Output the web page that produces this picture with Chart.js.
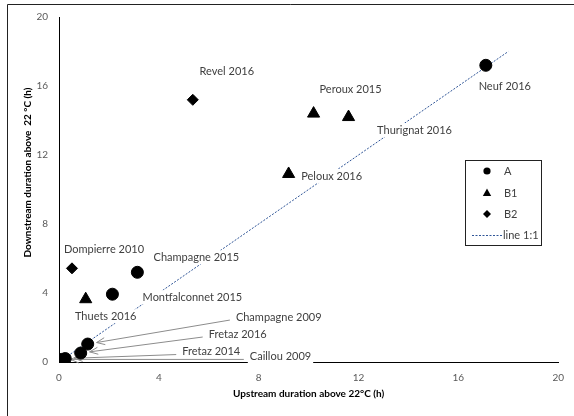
<!DOCTYPE html>
<html>
<head>
<meta charset="utf-8">
<script src="https://cdn.jsdelivr.net/npm/chart.js@4.4.0/dist/chart.umd.min.js"></script>
<style>
  html, body { margin: 0; padding: 0; background: #fff; }
  #wrap { width: 574px; height: 416px; }
</style>
</head>
<body>
<div id="wrap"><canvas id="chart" width="574" height="416"></canvas></div>
<script>
// group A (circles)
const aX = [17.1, 3.14, 2.14, 1.15, 0.87, 0.25, 0.1];
const aY = [17.2, 5.2, 3.93, 1.04, 0.52, 0.2, 0.15];
const aNames = ['Neuf 2016', 'Champagne 2015', 'Montfalconnet 2015', 'Champagne 2009', 'Fretaz 2016', 'Fretaz 2014', 'Caillou 2009'];

// group B1 (triangles)
const b1X = [10.2, 11.6, 9.2, 1.07];
const b1Y = [14.4, 14.2, 10.9, 3.64];
const b1Names = ['Peroux 2015', 'Thurignat 2016', 'Peloux 2016', 'Thuets 2016'];

// group B2 (diamonds)
const b2X = [5.36, 0.52];
const b2Y = [15.2, 5.43];
const b2Names = ['Revel 2016', 'Dompierre 2010'];

// 1:1 reference line
const lineX = [0, 18];
const lineY = [0, 18];

const axisTicks = [0, 4, 8, 12, 16, 20];
const seriesNames = ['A', 'B1', 'B2', 'line 1:1'];

const toPts = (xs, ys) => xs.map((x, i) => ({ x, y: ys[i] }));

// where each site label sits, in px relative to its point (text centre); arrow = leader line
const labelPlace = {
  'Neuf 2016': [19, 21],
  'Champagne 2015': [59, -15],
  'Montfalconnet 2015': [80, 3],
  'Champagne 2009': [191, -27, 'arrow'],
  'Fretaz 2016': [157, -19, 'arrow'],
  'Fretaz 2014': [146, -7, 'arrow'],
  'Caillou 2009': [219, -3, 'arrow'],
  'Peroux 2015': [37, -24],
  'Thurignat 2016': [66, 13],
  'Peloux 2016': [43, 2],
  'Thuets 2016': [20, 17],
  'Revel 2016': [34, -28],
  'Dompierre 2010': [32, -19]
};

function drawArrow(ctx, x1, y1, x2, y2) {
  const ang = Math.atan2(y2 - y1, x2 - x1);
  ctx.beginPath();
  ctx.moveTo(x1, y1);
  ctx.lineTo(x2, y2);
  ctx.moveTo(x2 - 9 * Math.cos(ang - 0.4), y2 - 9 * Math.sin(ang - 0.4));
  ctx.lineTo(x2, y2);
  ctx.lineTo(x2 - 9 * Math.cos(ang + 0.4), y2 - 9 * Math.sin(ang + 0.4));
  ctx.stroke();
}

// labels go on after the 1:1 line but before the markers
const siteLabels = {
  id: 'siteLabels',
  afterDatasetDraw(chart, args) {
    if (args.index !== 3) return;
    const ctx = chart.ctx;
    const xs = chart.scales.x, ys = chart.scales.y;
    const left = chart.chartArea.left;
    const groups = [[aX, aY, aNames], [b1X, b1Y, b1Names], [b2X, b2Y, b2Names]];
    ctx.save();
    ctx.font = '11px Lato';
    ctx.textBaseline = 'middle';
    ctx.textAlign = 'center';
    groups.forEach(([gx, gy, names]) => {
      names.forEach((name, i) => {
        const px = xs.getPixelForValue(gx[i]);
        const py = ys.getPixelForValue(gy[i]);
        const p = labelPlace[name];
        const cx = px + p[0], cy = py + p[1];
        const w = ctx.measureText(name).width;
        if (p[2] === 'arrow') {
          ctx.strokeStyle = '#8c8c8c';
          ctx.lineWidth = 1;
          const sx = cx - w / 2 - 6, sy = cy + 3;
          const ang = Math.atan2(py - sy, px - sx);
          drawArrow(ctx, sx, sy, px - 9 * Math.cos(ang), py - 9 * Math.sin(ang));
        }
        const bx = Math.max(cx - w / 2 - 2, left + 1);
        ctx.fillStyle = '#ffffff';
        ctx.fillRect(bx, cy - 7, cx + w / 2 + 2 - bx, 14);
        ctx.fillStyle = '#404040';
        ctx.fillText(name, cx, cy);
      });
    });
    ctx.restore();
  }
};

const boxLegend = {
  id: 'boxLegend',
  afterDraw(chart) {
    const ctx = chart.ctx;
    ctx.save();
    ctx.fillStyle = '#fff';
    ctx.fillRect(465, 160, 77, 85);
    ctx.strokeStyle = '#222';
    ctx.lineWidth = 1;
    ctx.strokeRect(465.5, 160.5, 76, 85);
    const mx = 487, tx = 504;
    const rows = [171, 193, 214, 235];
    ctx.fillStyle = '#000';
    ctx.beginPath();
    ctx.arc(mx, rows[0], 3.6, 0, Math.PI * 2);
    ctx.fill();
    ctx.beginPath();
    ctx.moveTo(mx, rows[1] - 4.5);
    ctx.lineTo(mx + 4.2, rows[1] + 3);
    ctx.lineTo(mx - 4.2, rows[1] + 3);
    ctx.closePath();
    ctx.fill();
    ctx.beginPath();
    ctx.moveTo(mx, rows[2] - 4);
    ctx.lineTo(mx + 4, rows[2]);
    ctx.lineTo(mx, rows[2] + 4);
    ctx.lineTo(mx - 4, rows[2]);
    ctx.closePath();
    ctx.fill();
    ctx.strokeStyle = '#2f5597';
    ctx.setLineDash([2, 1.5]);
    ctx.beginPath();
    ctx.moveTo(472, rows[3] + 0.5);
    ctx.lineTo(502, rows[3] + 0.5);
    ctx.stroke();
    ctx.setLineDash([]);
    ctx.font = '11px Lato';
    ctx.fillStyle = '#404040';
    ctx.textBaseline = 'middle';
    ctx.textAlign = 'left';
    seriesNames.forEach((s, i) => ctx.fillText(s, i === 3 ? 503 : tx, rows[i]));
    // outer frame (top and left edge only, as in the source)
    ctx.strokeStyle = '#222';
    ctx.beginPath();
    ctx.moveTo(574, 4.5);
    ctx.lineTo(7.5, 4.5);
    ctx.lineTo(7.5, 416);
    ctx.stroke();
    ctx.restore();
  }
};

const tickOpts = {
  color: '#595959',
  font: { family: 'Lato', size: 10 },
  stepSize: 4,
  autoSkip: false
};

new Chart(document.getElementById('chart'), {
  type: 'scatter',
  data: {
    datasets: [
      { label: 'A', data: toPts(aX, aY), pointStyle: 'circle', pointRadius: 6, backgroundColor: '#000', borderColor: '#000' },
      { label: 'B1', data: toPts(b1X, b1Y), pointStyle: 'triangle', pointRadius: 7, backgroundColor: '#000', borderColor: '#000' },
      { label: 'B2', data: toPts(b2X, b2Y), pointStyle: 'rectRot', pointRadius: 5.5, backgroundColor: '#000', borderColor: '#000' },
      { label: 'line 1:1', type: 'line', data: toPts(lineX, lineY), showLine: true, pointRadius: 0,
        borderColor: '#2f5597', borderWidth: 1, borderDash: [2, 1.5], fill: false }
    ]
  },
  options: {
    responsive: false,
    animation: false,
    layout: { padding: { top: 16, right: 12, left: 0, bottom: 0 } },
    plugins: {
      legend: { display: false },
      tooltip: { enabled: false }
    },
    scales: {
      x: {
        type: 'linear', min: 0, max: 20,
        afterBuildTicks: (s) => { s.ticks = axisTicks.map(v => ({ value: v })); },
        afterFit: (s) => { s.height = 54; },
        grid: { display: false, drawTicks: false },
        border: { display: true, color: '#000', width: 1 },
        ticks: Object.assign({ padding: 10 }, tickOpts),
        title: { display: true, text: 'Upstream duration above 22°C (h)', color: '#000',
          font: { family: 'Lato', size: 10, weight: 'bold' }, padding: { top: 0, bottom: 16 } }
      },
      y: {
        type: 'linear', min: 0, max: 20,
        afterBuildTicks: (s) => { s.ticks = axisTicks.map(v => ({ value: v })); },
        afterFit: (s) => { s.width = 59; },
        grid: { display: false, drawTicks: false },
        border: { display: true, color: '#000', width: 1 },
        ticks: Object.assign({ padding: 11 }, tickOpts),
        title: { display: true, text: '\u00A0\u00A0\u00A0\u00A0\u00A0\u00A0\u00A0\u00A0\u00A0\u00A0\u00A0\u00A0\u00A0\u00A0Downstream duration above  22 °C (h)', color: '#000',
          font: { family: 'Lato', size: 10, weight: 'bold' }, padding: { top: 22, bottom: 0 } }
      }
    }
  },
  plugins: [siteLabels, boxLegend]
});
</script>
</body>
</html>
